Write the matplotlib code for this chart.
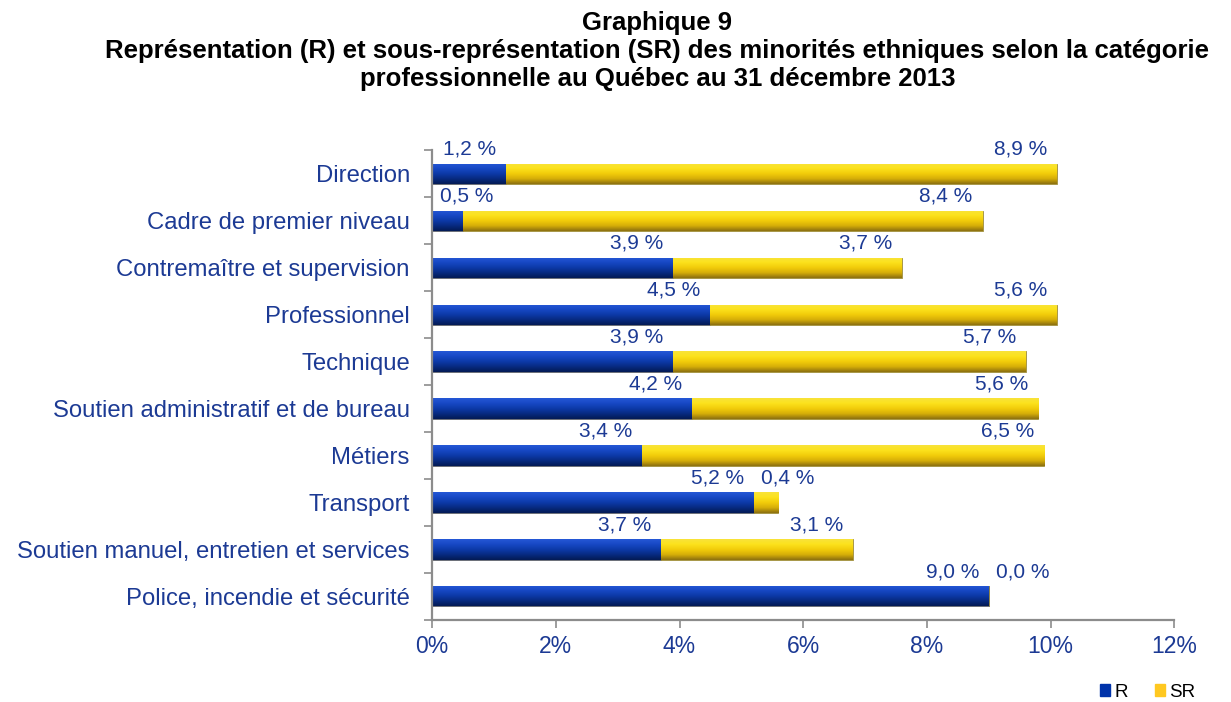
import matplotlib
matplotlib.use("Agg")
import numpy as np
import matplotlib.pyplot as plt
from matplotlib.patches import Patch
from matplotlib.colors import LinearSegmentedColormap
from matplotlib.ticker import FixedLocator, FuncFormatter

categories = ["Direction", "Cadre de premier niveau", "Contremaître et supervision",
              "Professionnel", "Technique", "Soutien administratif et de bureau",
              "Métiers", "Transport", "Soutien manuel, entretien et services",
              "Police, incendie et sécurité"]
r_values = [1.2, 0.5, 3.9, 4.5, 3.9, 4.2, 3.4, 5.2, 3.7, 9.0]
sr_values = [8.9, 8.4, 3.7, 5.6, 5.7, 5.6, 6.5, 0.4, 3.1, 0.0]
xticks = [0, 2, 4, 6, 8, 10, 12]

plt.rcParams['font.family'] = ['Liberation Sans', 'DejaVu Sans']
navy = '#1C3A94'
blue = '#0E3FB0'
yellow = '#F6CF0E'
gray = '#8C8C8C'

blue_cmap = LinearSegmentedColormap.from_list('b', ['#2558D6', '#1748C4', '#0C3AA8', '#072A80', '#031A55'])
yellow_cmap = LinearSegmentedColormap.from_list('y', ['#F8E33A', '#FCE21C', '#F2CC0A', '#D6AE08', '#8C7010'])

fig = plt.figure(figsize=(12.31, 7.02), dpi=100)
ax = fig.add_axes([0.351, 0.117, 0.603, 0.669])

ypos = list(range(len(categories)))
bh = 0.43
bars_r = ax.barh(ypos, r_values, height=bh, color=blue, edgecolor='#6A6A6A', linewidth=0.6, label='R')
bars_sr = ax.barh(ypos, sr_values, left=r_values, height=bh, color=yellow, edgecolor='#9A8A40', linewidth=0.6, label='SR')

grad = np.linspace(0, 1, 64).reshape(-1, 1)
for bars, cmap in [(bars_r, blue_cmap), (bars_sr, yellow_cmap)]:
    for p in bars:
        w = p.get_width()
        if w <= 0:
            continue
        x0, y0 = p.get_x(), p.get_y()
        h = p.get_height()
        im = ax.imshow(grad, cmap=cmap, aspect='auto', origin='upper',
                       extent=(x0, x0 + w, y0 + h, y0), zorder=p.get_zorder() + 0.1,
                       interpolation='bilinear')
        im.set_clip_path(p)
ax.set_xlim(0, 12)
ax.set_ylim(len(categories) - 0.5, -0.5)
ax.set_aspect('auto')

def fmt(v):
    return f"{v:.1f}".replace('.', ',') + " %"

lw = 0.86  # approx label width in data units
fs_lab = 15
for i in ypos:
    segs = [(0, r_values[i]), (r_values[i], r_values[i] + sr_values[i])]
    vals = [r_values[i], sr_values[i]]
    for (s, e), v in zip(segs, vals):
        xr = e - 0.16
        if xr - lw < s + 0.05:
            x, ha = s + 0.12, 'left'
        else:
            x, ha = xr, 'right'
        ax.text(x, i - bh / 2 - 0.11, fmt(v), ha=ha, va='bottom', color=navy, fontsize=fs_lab)

ax.set_yticks(ypos)
ax.set_yticklabels(categories, color=navy, fontsize=17.2)
ax.tick_params(axis='y', length=0, pad=16)
ax.yaxis.set_minor_locator(FixedLocator([k - 0.5 for k in range(len(categories) + 1)]))
ax.tick_params(axis='y', which='minor', length=6, color=gray, width=1.2)

ax.set_xticks(xticks)
ax.xaxis.set_major_formatter(FuncFormatter(lambda v, p: f"{int(v)}%"))
ax.tick_params(axis='x', length=6, color=gray, width=1.2, labelcolor=navy, labelsize=16.5, pad=5)

for s in ['top', 'right']:
    ax.spines[s].set_visible(False)
for s in ['left', 'bottom']:
    ax.spines[s].set_color(gray)
    ax.spines[s].set_linewidth(1.6)

fig.text(0.534, 0.984, "Graphique 9\nReprésentation (R) et sous-représentation (SR) des minorités ethniques selon la catégorie\nprofessionnelle au Québec au 31 décembre 2013",
         ha='center', va='top', fontsize=18.5, fontweight='bold', linespacing=1.2)

handles = [Patch(color='#0033AA', label='R'), Patch(color='#FFC820', label='SR')]
fig.legend(handles=handles, loc='lower right', bbox_to_anchor=(0.985, -0.022), ncol=2,
           frameon=False, fontsize=13.5, handlelength=0.55, handleheight=0.55,
           handletextpad=0.25, columnspacing=1.4)

fig.savefig('out.png', dpi=100)
